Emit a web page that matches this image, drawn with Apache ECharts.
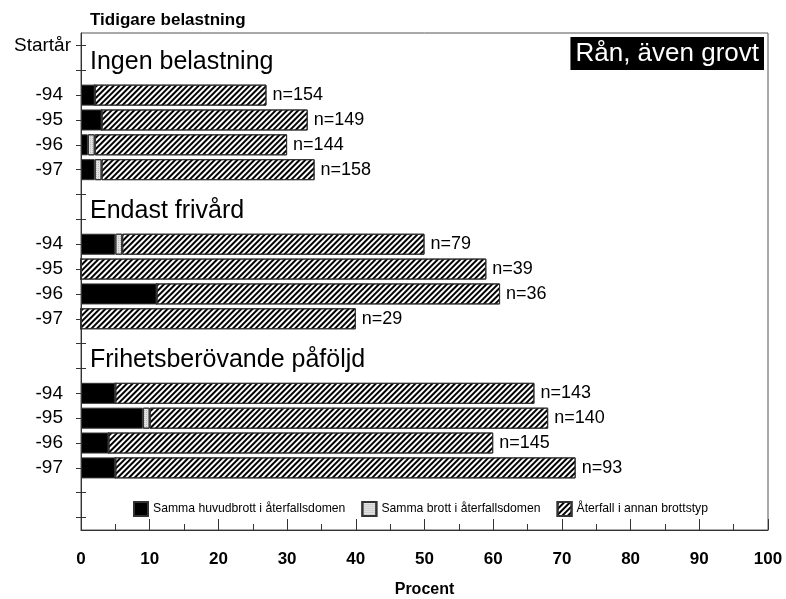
<!DOCTYPE html>
<html>
<head>
<meta charset="utf-8">
<script src="https://cdn.jsdelivr.net/npm/echarts@6/dist/echarts.min.js"></script>
<style>
  html, body { margin: 0; padding: 0; background: #fff; }
  #chart { width: 786px; height: 599px; }
</style>
</head>
<body>
<div id="chart"></div>
<script>
// one row per category, top to bottom; null = empty row
const categories = ['Startår', '', '-94', '-95', '-96', '-97', '', '', '-94', '-95', '-96', '-97', '', '', '-94', '-95', '-96', '-97', '', '']
const sameMain = [null, null, 2, 3, 1, 2, null, null, 5, 0, 11, 0, null, null, 5, 9, 4, 5, null, null]
const sameCrime = [null, null, 0, 0, 1, 1, null, null, 1, 0, 0, 0, null, null, 0, 1, 0, 0, null, null]
const otherType = [null, null, 25, 30, 28, 31, null, null, 44, 59, 50, 40, null, null, 61, 58, 56, 67, null, null]
const nValues = [null, null, 154, 149, 144, 158, null, null, 79, 39, 36, 29, null, null, 143, 140, 145, 93, null, null]
const groupNames = ['Ingen belastning', 'Endast frivård', 'Frihetsberövande påföljd']
const groupRows = [1, 7, 13]
const seriesNames = ['Samma huvudbrott i återfallsdomen', 'Samma brott i återfallsdomen', 'Återfall i annan brottstyp']
const xTicks = [0, 10, 20, 30, 40, 50, 60, 70, 80, 90, 100]

const font = 'Liberation Sans, Arial, sans-serif'
const chart = echarts.init(document.getElementById('chart'))

const barBase = {
  type: 'bar',
  stack: 'total',
  barWidth: 21,
  yAxisIndex: 0
}

const option = {
  animation: false,
  textStyle: { fontFamily: font },
  title: [
    {
      text: 'Tidigare belastning',
      left: 85,
      top: 7,
      textStyle: { fontSize: 17, fontWeight: 'bold', color: '#000', fontFamily: font }
    },
    {
      text: 'Rån, även grovt',
      right: 22,
      top: 37,
      backgroundColor: '#000',
      padding: [4, 5, 3, 5],
      textStyle: { fontSize: 26, fontWeight: 'normal', color: '#fff', fontFamily: font }
    }
  ],
  legend: {
    left: 128,
    top: 496,
    icon: 'rect',
    itemWidth: 14,
    itemHeight: 14,
    itemGap: 16,
    data: seriesNames,
    textStyle: { fontSize: 12.2, color: '#000', fontFamily: font }
  },
  grid: {
    left: 81,
    right: 18,
    top: 33,
    bottom: 69,
    outerBoundsMode: 'none',
    containLabel: false,
    show: true,
    borderColor: '#555',
    borderWidth: 1
  },
  xAxis: {
    type: 'value',
    min: xTicks[0],
    max: xTicks[xTicks.length - 1],
    interval: 10,
    splitLine: { show: false },
    axisLine: { show: true, lineStyle: { color: '#333' } },
    axisTick: { show: true, inside: true, length: 11, lineStyle: { color: '#333' } },
    minorTick: { show: true, splitNumber: 2, length: 6, lineStyle: { color: '#333' } },
    axisLabel: { margin: 21, fontSize: 17, fontWeight: 'bold', color: '#000', fontFamily: font },
    name: 'Procent',
    nameLocation: 'middle',
    nameGap: 52,
    nameTextStyle: { fontSize: 16, fontWeight: 'bold', color: '#000', fontFamily: font }
  },
  yAxis: [
    {
      type: 'category',
      data: categories,
      inverse: true,
      axisLine: { show: true, lineStyle: { color: '#333' } },
      axisTick: { show: true, alignWithLabel: true, interval: 0, length: 5, lineStyle: { color: '#333' } },
      axisLabel: {
        interval: 0,
        margin: 10,
        fontSize: 19,
        color: '#000',
        fontFamily: font,
        formatter: (v) => v === 'Startår' ? v : '{r|' + v + '}',
        rich: { r: { fontSize: 19, color: '#000', fontFamily: font, padding: [0, 8, 0, 0] } }
      }
    },
    {
      // ticks on the inside so they cross the axis line
      type: 'category',
      data: categories,
      inverse: true,
      position: 'left',
      axisLine: { show: false },
      axisTick: { show: true, inside: true, alignWithLabel: true, interval: 0, length: 5, lineStyle: { color: '#333' } },
      axisLabel: { show: false }
    }
  ],
  series: [
    Object.assign({}, barBase, {
      name: seriesNames[0],
      data: sameMain,
      itemStyle: { color: '#000', borderColor: '#333', borderWidth: 1 }
    }),
    Object.assign({}, barBase, {
      name: seriesNames[1],
      data: sameCrime,
      itemStyle: {
        color: '#e2e2e2',
        borderColor: '#333',
        borderWidth: 1,
        decal: { symbol: 'rect', symbolSize: 1, color: 'rgba(150,150,150,0.5)', dashArrayX: [1, 1], dashArrayY: [1, 1] }
      }
    }),
    Object.assign({}, barBase, {
      name: seriesNames[2],
      data: otherType,
      itemStyle: {
        color: '#fff',
        borderColor: '#333',
        borderWidth: 1,
        decal: { symbol: 'rect', symbolSize: 1, color: '#000', dashArrayX: [1, 0], dashArrayY: [2, 2], rotation: -Math.PI / 4 }
      },
      label: {
        show: true,
        position: 'right',
        distance: 6,
        fontSize: 18,
        color: '#000',
        fontFamily: font,
        formatter: (p) => nValues[p.dataIndex] == null ? '' : 'n=' + nValues[p.dataIndex]
      }
    })
  ]
}

chart.setOption(option)

// group headings sit a little above their row centre
chart.setOption({
  graphic: groupNames.map((name, i) => {
    const y = chart.convertToPixel({ yAxisIndex: 0 }, groupRows[i])
    return {
      type: 'text',
      left: 90,
      top: y - 7 - 14,
      style: { text: name, fill: '#000', font: '25px ' + font }
    }
  })
})
</script>
</body>
</html>
